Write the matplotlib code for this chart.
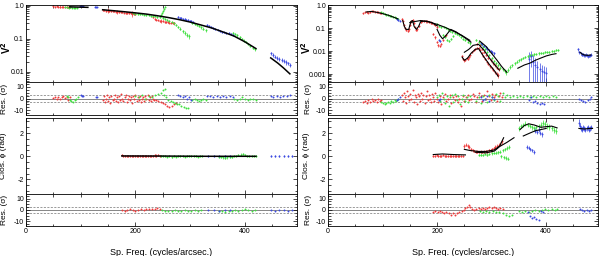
import numpy as np
import matplotlib
matplotlib.use('Agg')
import matplotlib.pyplot as plt
from matplotlib.ticker import MultipleLocator, LogLocator, FixedLocator, FixedFormatter, NullFormatter

plt.rcParams['font.family'] = ['Liberation Sans', 'DejaVu Sans']
plt.rcParams['axes.unicode_minus'] = False

RED = '#ee3b3b'
GREEN = '#3fe03f'
BLUE = '#3b49e0'

# ---------------- LEFT: V^2 (x, V2, err) ----------------
lv_red = [(50,.96,.03),(53,.95,.03),(56,.96,.04),(59,.94,.03),(62,.95,.08),(65,.93,.03),(68,.94,.03),(71,.92,.03),(74,.93,.04),(77,.91,.03),(80,.92,.03),
          (140,.74,.03),(143,.73,.03),(146,.71,.04),(149,.71,.12),(152,.70,.03),(155,.69,.03),(158,.68,.04),(161,.68,.03),(164,.66,.03),(167,.65,.10),(170,.65,.03),(173,.64,.03),(176,.63,.04),(179,.62,.03),(182,.61,.03),(185,.61,.03),(188,.60,.04),(191,.59,.03),(194,.58,.12),(197,.57,.03),(200,.56,.03),
          (232,.45,.03),(235,.41,.03),(238,.38,.02),(241,.36,.02),(244,.35,.02),(247,.34,.05),(250,.34,.02),(253,.33,.02),(256,.32,.02),(259,.32,.02),(262,.31,.02),(265,.31,.02),(268,.30,.02),(271,.30,.02)]
lv_green = [(72,.92,.03),(75,.90,.03),(78,.88,.03),(81,.89,.03),(84,.87,.03),(87,.88,.03),(90,.86,.03),(93,.87,.03),
            (196,.60,.03),(200,.58,.03),(204,.57,.03),(208,.56,.03),(212,.55,.03),(216,.54,.03),(220,.53,.03),(224,.52,.03),(228,.50,.03),(232,.49,.03),(236,.48,.03),(240,.47,.03),(244,.46,.03),
            (246,.52,.03),(248,.60,.04),(250,.70,.05),(252,.82,.05),(254,.95,.06),
            (250,.42,.03),(254,.40,.03),(258,.37,.03),(262,.35,.03),(266,.32,.03),(270,.29,.03),(274,.26,.02),(278,.23,.02),(282,.20,.02),(286,.17,.02),(290,.15,.02),(294,.13,.02),(298,.12,.02),
            (304,.30,.02),(308,.28,.02),(312,.26,.02),(316,.24,.02),(320,.22,.02),(324,.20,.02),(328,.18,.02),
            (378,.15,.01),(382,.14,.01),(386,.125,.01),(390,.11,.01),(394,.10,.008),(398,.088,.008),(402,.078,.006),(406,.068,.006),(410,.06,.005),(414,.053,.005),(418,.047,.004)]
lv_blue = [(98,.98,.02),(100,.97,.02),(102,.98,.02),(104,.96,.02),
           (126,.94,.02),(128,.92,.02),(130,.91,.02),
           (278,.46,.02),(281,.44,.02),(284,.43,.02),(287,.41,.02),(290,.40,.02),(293,.38,.02),(296,.37,.02),(299,.35,.02),(302,.34,.02),(305,.33,.02),
           (330,.27,.015),(334,.25,.015),(338,.23,.015),(342,.215,.015),(346,.20,.012),(350,.19,.012),(354,.175,.012),(358,.165,.012),(362,.155,.01),(366,.15,.012),(370,.145,.01),(374,.14,.012),(378,.13,.01),
           (447,.036,.004),(451,.032,.004),(455,.028,.003),(459,.026,.003),(463,.024,.003),(467,.022,.003),(471,.021,.003),(475,.019,.003),(479,.018,.002),(483,.016,.002)]
lv_model = [[(80,.93),(113,.90)],
            [(140,.76),(160,.71),(180,.66),(200,.61),(220,.56),(240,.50),(260,.44),(280,.38),(300,.32),(320,.26),(340,.21),(360,.16),(380,.12),(400,.08),(420,.05)],
            [(447,.026),(460,.018),(470,.013),(482,.0085)]]

# ---------------- LEFT: V^2 residuals (x, sigma) ----------------
lr_red = [(50,0.5),(53,1),(56,0),(59,1.5),(62,-0.5),(65,1),(68,2),(71,0.5),(74,1.5),(77,-1),(80,1),
          (140,-1),(142,2),(144,-3),(146,0),(148,3),(150,-2),(152,1),(154,-4),(156,2),(158,-1),(160,0),(162,3),(164,-2),(166,1),(168,-3),(170,2),(172,-1),(174,4),(176,0),(178,-2),(180,1),(182,3),(184,-3),(186,0),(188,2),(190,-1),(192,1),(194,-4),(196,2),(198,0),(200,3),(202,-2),(204,1),(206,-1),(208,2),(210,-3),(212,0),(214,1),(216,-2),(218,2),(220,0),(222,3),(224,-1),(226,1),(228,-2),(230,2),(232,0),(234,-1),
          (238,-1),(242,-2),(246,-3),(250,-4),(254,-5),(258,-6),(262,-7),(266,-6),(270,-5),(274,-4)]
lr_green = [(74,2),(77,1),(80,-1),(83,-2),(86,-3),(89,-1),(92,0),(95,1),
            (200,2),(206,1),(212,3),(218,0),(224,2),(230,1),(236,3),(242,4),(246,5),(250,7),(254,8),
            (252,3),(256,1),(260,-1),(264,-2),(268,-3),(272,-4),(276,-5),(280,-5),(284,-6),(288,-7),(292,-8),(296,-8),
            (304,-1),(308,0),(312,-1),(316,-2),(320,-1),(324,0),(328,-1),
            (380,0),(385,-1),(390,0),(395,1),(400,0),(405,-1),(410,0),(415,0),(420,-1)]
lr_blue = [(100,3),(102,2),(104,2.5),(128,1.5),(130,1),
           (278,3),(282,2),(286,1),(290,2),(294,0),(298,1),(302,-1),
           (330,2),(336,2),(342,1.5),(348,2),(354,1.5),(360,2),(366,1.5),(372,2),(378,1.5),
           (447,2),(452,1.5),(458,2),(464,1.5),(470,2),(476,2.5),(482,3)]

# ---------------- LEFT: closure phase (x, rad, err) ----------------
lc_red = [(175,0.08,.08),(178,0.05,.08),(181,0.06,.08),(184,0.03,.08),(187,0.05,.08),(190,0.04,.08),(193,0.06,.08),(196,0.03,.08),(199,0.05,.08),(202,0.02,.08),(205,0.04,.08),(208,0.03,.08),(211,0.05,.08),(214,0.02,.08),(217,0.04,.08),(220,0.03,.08),(223,0.05,.08),(226,0.06,.08),(229,0.04,.08),(232,0.05,.08),(235,0.08,.1),(238,0.06,.1),(241,0.09,.1),(244,0.05,.1)]
lc_green = [(246,0.02,.08),(250,0.0,.08),(254,0.03,.08),(258,-0.02,.08),(262,0.01,.08),(266,-0.03,.08),(270,0.0,.08),(274,-0.02,.08),(278,0.02,.08),(282,-0.01,.08),(286,0.01,.08),(290,-0.02,.08),(294,0.0,.08),(298,0.02,.08),(302,-0.01,.08),(306,0.0,.08),(310,0.01,.08),(314,-0.02,.08),(318,0.0,.08),(322,0.01,.08),
            (352,-0.05,.1),(356,-0.08,.1),(360,-0.1,.1),(364,-0.12,.1),(368,-0.1,.1),(372,-0.08,.1),(376,-0.05,.1),(380,0.0,.1),(384,0.05,.1),(388,0.1,.1),(392,0.15,.12),(396,0.2,.12),(400,0.1,.1),(404,0.05,.1),(408,0.02,.1),(412,0.0,.1),(416,0.02,.1),(420,0.0,.1)]
lc_blue = [(333,0.0,.1),(343,0.01,.1),(353,0.0,.1),(363,-0.01,.1),(373,0.0,.1),
           (447,0.0,.1),(455,0.01,.1),(463,0.0,.1),(471,0.0,.1),(479,0.01,.1),(485,0.0,.1)]
lc_model = [[(175,0.03),(250,0.02),(330,0.0),(420,0.0)]]

# ---------------- LEFT: closure phase residuals ----------------
lcr_red = [(175,0),(180,-0.5),(185,0),(190,0.5),(195,0),(200,-0.5),(205,0),(210,0.5),(215,0),(220,0.5),(225,1),(230,0.5),(235,1),(240,1.5),(245,0.5)]
lcr_green = [(248,0),(254,-0.5),(260,-1),(266,-0.5),(272,0),(278,-1),(284,-0.5),(290,0),(296,-1),(302,-0.5),(308,0),(314,-0.5),(320,0),
             (352,-0.5),(358,-1),(364,-1.5),(370,-1),(376,-0.5),(382,0),(388,-0.5),(394,0),(400,0.5),(406,0),(412,-0.5),(418,0)]
lcr_blue = [(333,0),(343,0),(353,-0.5),(363,0),(373,0),(447,0),(455,-0.5),(463,0),(471,0),(479,-0.5),(485,0)]

# ---------------- RIGHT: V^2 (x, V2, err) ----------------
rv_red = [(65,.45,.03),(68,.50,.03),(71,.52,.03),(74,.48,.03),(77,.50,.03),(80,.55,.03),(83,.56,.03),(86,.54,.03),(89,.52,.03),(92,.50,.03),(95,.48,.03),(98,.46,.03),
          (135,.25,.02),(137,.20,.02),(139,.14,.015),(141,.10,.01),(143,.085,.01),(146,.08,.01),(149,.09,.01),(151,.14,.015),(153,.20,.02),(155,.24,.02),(157,.17,.02),(159,.11,.01),(161,.085,.01),(164,.09,.01),(167,.13,.015),(170,.19,.02),(173,.22,.02),(176,.21,.02),(179,.20,.02),(182,.20,.02),(185,.19,.02),(188,.18,.02),(191,.17,.02),(194,.16,.02),(197,.14,.015),(200,.12,.015),
          (193,.055,.006),(196,.04,.005),(199,.025,.003),(202,.018,.002),(205,.017,.002),(208,.02,.002),(211,.03,.003),(214,.045,.005),(217,.05,.005),
          (246,.006,.0007),(248,.0045,.0005),(250,.004,.0005),(252,.0042,.0005),(254,.005,.0006),(256,.0045,.0005),(258,.0055,.0006),(261,.007,.0008),(264,.009,.001),(267,.011,.001),(270,.013,.0012),(273,.014,.0013),(276,.014,.0013),(279,.011,.001),(282,.008,.0008),(285,.006,.0006),(288,.0045,.0005),(291,.0035,.0004),(294,.0028,.0003),(297,.0022,.0003),(300,.0018,.0002),(303,.0015,.0002),(306,.0012,.0002),(309,.001,.0002),(312,.0009,.0002),
          (274,.02,.002),(278,.018,.002),(282,.013,.0015),(286,.009,.001),(290,.007,.0008),(294,.005,.0006),(298,.004,.0005),(302,.003,.0004),(306,.0024,.0003),(310,.0019,.0003),(314,.0016,.0003)]
rv_green = [(98,.50,.03),(101,.47,.03),(104,.44,.03),(107,.40,.03),(110,.38,.03),(113,.36,.03),(116,.34,.03),(119,.32,.02),(122,.30,.02),(125,.28,.02),(128,.26,.02),
            (200,.15,.015),(204,.13,.012),(208,.12,.012),(212,.11,.01),(216,.10,.01),(220,.09,.01),(224,.08,.008),(228,.07,.007),(232,.065,.007),(236,.055,.006),(240,.05,.005),(244,.04,.004),(248,.035,.004),(252,.03,.003),(256,.026,.003),(260,.022,.003),
            (210,.05,.005),(214,.04,.004),(218,.03,.003),(222,.028,.003),(226,.035,.004),(230,.045,.005),
            (272,.03,.003),(276,.025,.003),(280,.02,.002),(284,.016,.002),(288,.012,.0015),(292,.009,.001),(296,.007,.0008),(300,.005,.0006),(304,.0038,.0005),(308,.003,.0004),(312,.0024,.0003),(316,.0019,.0003),(320,.0016,.0003),(324,.0014,.0003),
            (326,.0012,.0003),(330,.0015,.0003),(334,.002,.0004),(338,.0025,.0004),(342,.003,.0005),(346,.0035,.0005),(350,.004,.0005),(354,.0045,.0006),(358,.005,.0006),(362,.0055,.0006),(366,.006,.0007),(370,.0065,.0007),(374,.007,.0008),(378,.0072,.0008),(382,.0075,.0008),(386,.008,.0009),(390,.0082,.0009),(394,.0085,.0009),(398,.009,.001),(402,.0092,.001),(406,.0095,.001),(410,.01,.001),(414,.0105,.001),(418,.011,.001),(422,.0115,.0012)]
rv_blue = [(126,.26,.02),(129,.24,.02),(132,.22,.02),(204,.03,.003),(206,.028,.003),
           (280,.022,.003),(283,.02,.003),(286,.017,.002),(289,.015,.002),(292,.013,.002),(295,.011,.0015),(298,.01,.0015),(301,.009,.0012),(304,.008,.001),
           (368,.0045,.0044),(372,.006,.004),(376,.0035,.0034),(380,.0025,.0024),(384,.002,.0019),(388,.0016,.0015),(392,.0013,.0012),(396,.0012,.0011),(400,.0011,.001),
           (459,.012,.002),(461,.009,.0015),(463,.008,.001),(465,.007,.001),(467,.0072,.001),(469,.0068,.001),(471,.0065,.0009),(473,.007,.001),(475,.0066,.0009),(477,.0062,.0009),(479,.0064,.0009),(481,.0068,.001),(483,.007,.001)]
rv_model = [[(70,.52),(80,.55),(90,.50),(100,.44),(110,.38),(120,.31),(128,.26)],
            [(137,.22),(140,.12),(143,.09),(148,.09),(152,.2),(155,.22),(158,.12),(162,.09),(166,.12),(170,.2),(180,.21),(190,.18),(200,.13)],
            [(150,.18),(160,.2),(170,.22),(185,.19),(200,.15),(215,.11),(230,.075),(245,.05),(260,.03)],
            [(200,.09),(205,.05),(210,.035),(215,.045),(225,.09),(235,.07),(250,.04),(262,.025)],
            [(246,.0055),(250,.004),(256,.005),(262,.008),(270,.012),(276,.013),(285,.006),(295,.0028),(305,.0014),(312,.0008)],
            [(250,.009),(258,.012),(266,.018),(276,.02),(286,.011),(296,.005),(306,.0025),(314,.0015)],
            [(278,.028),(290,.016),(300,.008),(310,.004),(318,.0022),(324,.0015),(328,.0012)],
            [(348,.0018),(360,.0025),(370,.003),(380,.004),(390,.005),(400,.0062),(410,.0072),(418,.0078)],
            [(462,.009),(466,.0075),(470,.0068),(476,.0066),(482,.0068)]]

# ---------------- RIGHT: V^2 residuals ----------------
rr_red = [(65,-3),(68,-2),(71,-4),(74,-1),(77,-3),(80,0),(83,-2),(86,-1),(89,-3),(92,0),(95,-2),(98,-1),
          (135,3),(137,-2),(139,5),(141,1),(143,-4),(145,6),(147,2),(149,-1),(151,4),(153,0),(155,7),(157,-3),(159,3),(161,1),(163,-5),(165,4),(167,2),(169,-2),(171,5),(173,0),(175,3),(177,-4),(179,2),(181,6),(183,-1),(185,3),(187,0),(189,-3),(191,4),(193,1),(195,-2),(197,5),(199,0),
          (202,-3),(205,2),(208,-5),(211,1),(214,4),(217,-2),(220,0),(223,3),(226,-4),(229,1),(232,-1),(235,2),(238,-3),(241,0),(244,-6),(247,2),
          (250,-2),(253,1),(256,3),(259,-1),(262,0),(265,4),(268,2),(271,-3),(274,1),(277,5),(280,2),(283,-2),(286,3),(289,0),(292,6),(295,2),(298,-1),(301,4),(304,1),(307,3),(310,-2),(313,2),(316,5),(319,1)]
rr_green = [(98,-3),(101,-4),(104,-5),(107,-4),(110,-3),(113,-4),(116,-2),(119,-3),(122,-1),(125,-2),(128,0),
            (200,1),(203,3),(206,-2),(209,5),(212,0),(215,-4),(218,2),(221,-6),(224,1),(227,3),(230,-3),(233,4),(236,-1),(239,2),(242,-5),(245,0),(248,3),(251,-2),(254,1),(257,-3),(260,2),
            (272,-2),(276,1),(280,-4),(284,2),(288,0),(292,-3),(296,3),(300,1),(304,-1),(308,4),(312,2),(316,-2),(320,5),(324,1),(328,3),
            (334,1),(340,2),(346,1),(352,2),(358,1),(364,2),(370,1.5),(376,2),(382,1),(388,2),(394,1.5),(400,2),(406,1),(412,2),(418,1.5)]
rr_blue = [(126,-1),(129,0),(132,1),(204,-1),(206,0),(280,1),(284,-1),(288,0),(292,2),(296,-2),(300,1),(304,0),
           (368,-1),(372,1),(376,-3),(380,-2),(384,-4),(388,-5),(392,-4),(396,-5),
           (460,0),(464,-1),(468,-2),(472,-3),(476,-1),(480,0),(483,1)]

# ---------------- RIGHT: closure phase ----------------
rc_red = [(193,0.0,.1),(196,0.05,.1),(199,0.1,.1),(202,0.05,.1),(205,0.0,.1),(208,0.05,.1),(211,0.1,.1),(214,0.05,.1),(217,0.0,.1),(220,0.05,.1),(223,0.0,.1),(226,0.05,.1),(229,0.0,.1),(232,0.05,.1),(235,0.0,.1),(238,0.05,.1),(241,0.0,.1),(244,0.05,.1),(247,0.05,.1),
          (250,0.9,.15),(253,1.0,.15),(256,0.9,.15),(259,0.8,.15),(262,0.6,.12),(265,0.5,.12),(268,0.45,.1),(271,0.4,.1),(274,0.4,.1),(277,0.35,.1),(280,0.4,.1),(283,0.35,.1),(286,0.4,.1),(289,0.45,.1),(292,0.4,.1),(295,0.5,.1),(298,0.5,.1),(301,0.6,.12),(304,0.7,.12),(307,0.8,.15),(310,0.9,.15),(313,1.0,.15),(316,1.1,.15),(319,1.3,.2)]
rc_green = [(276,0.1,.1),(280,0.15,.1),(284,0.1,.1),(288,0.2,.1),(292,0.15,.1),(296,0.2,.1),(300,0.25,.1),(304,0.3,.1),(308,0.3,.12),(312,0.35,.12),(316,0.4,.12),(320,0.5,.15),(324,0.6,.15),(328,0.7,.15),(332,0.8,.15),
            (318,0.0,.12),(322,-0.1,.12),(326,-0.15,.15),(330,-0.2,.15),
            (350,2.4,.2),(354,2.6,.2),(358,2.7,.2),(362,2.8,.2),(366,2.7,.2),(370,2.6,.2),(374,2.5,.2),(378,2.4,.2),(382,2.5,.2),(386,2.6,.2),(390,2.7,.25),(394,2.9,.25),(398,2.8,.25),(402,2.6,.25),(406,2.5,.25),(410,2.4,.25),(414,2.3,.25),(418,2.2,.25)]
rc_blue = [(365,0.8,.15),(368,0.75,.15),(371,0.6,.15),(374,0.5,.15),(377,0.35,.15),
           (380,2.2,.2),(383,2.1,.2),(386,2.3,.2),(389,2.0,.2),(392,1.9,.2),
           (460,2.9,.3),(462,2.6,.25),(464,2.4,.2),(466,2.3,.2),(468,2.5,.2),(470,2.4,.2),(472,2.3,.2),(474,2.4,.2),(476,2.5,.2),(478,2.3,.2),(480,2.4,.2),(482,2.5,.2)]
rc_model = [[(193,0.15),(210,0.2),(230,0.15),(252,0.12)],
            [(250,0.6),(260,0.5),(275,0.42),(290,0.42),(305,0.55),(315,0.9),(322,1.6)],
            [(270,0.35),(290,0.3),(305,0.45),(315,0.85),(328,1.2),(341,1.6)],
            [(352,2.3),(360,2.65),(368,2.8),(378,2.7),(390,2.5),(400,2.55),(410,2.6),(420,2.45)],
            [(358,1.75),(370,2.0),(380,2.2),(390,2.3),(400,2.4)],
            [(460,2.4),(470,2.35),(480,2.4),(485,2.4)]]

# ---------------- RIGHT: closure phase residuals ----------------
rcr_red = [(193,-2),(197,-1),(201,-2),(205,-1),(209,-2),(213,-3),(217,-2),(221,-3),(225,-4),(229,-3),(233,-4),(237,-3),(241,-2),(245,-1),(249,0),(252,2),(255,3),(258,4),(261,3),(264,1),(268,0),(272,1),(276,2),(280,1),(284,2),(288,1),(292,2),(296,3),(300,2),(304,3),(308,2),(312,1),(316,2),(320,1)]
rcr_green = [(278,-1),(284,-2),(290,-1),(296,-2),(302,-1),(308,-2),(314,-2),(320,-3),(326,-4),(332,-5),(338,-4),
             (350,-1),(356,-2),(362,-1),(368,-2),(374,-1),(380,0),(386,-1),(392,0),(398,1),(404,0),(410,1),(416,0),(420,1)]
rcr_blue = [(366,-2),(370,-5),(374,-7),(378,-6),(382,-8),(386,-9),(390,-1),(394,-2),(462,1),(466,0),(470,-1),(474,0),(478,-1),(482,0)]

V2_TICKS_L = [1.0, 0.1, 0.01]
V2_LABELS_L = ['1.0', '0.1', '0.01']
V2_TICKS_R = [1.0, 0.1, 0.01, 0.001]
V2_LABELS_R = ['1.0', '0.1', '0.01', '0.001']

# ---------------- figure ----------------
W, H = 600, 256
fig = plt.figure(figsize=(6.0, 2.56), dpi=100)

def ax_at(x0, x1, y0, y1):
    return fig.add_axes([x0 / W, 1 - y1 / H, (x1 - x0) / W, (y1 - y0) / H])

def pts(ax, data, color):
    a = np.array(data, dtype=float)
    if a.shape[1] == 3:
        ax.errorbar(a[:, 0], a[:, 1], yerr=a[:, 2], fmt='o', ms=1.4, mew=0,
                    color=color, ecolor=color, elinewidth=0.5, capsize=0, zorder=2)
    else:
        ax.plot(a[:, 0], a[:, 1], 'o', ms=1.4, mew=0, color=color, zorder=2)

def model(ax, segs, lw=0.9):
    for s in segs:
        a = np.array(s, dtype=float)
        ax.plot(a[:, 0], a[:, 1], '-', color='black', lw=lw, zorder=3)

def style(ax, xlabels=False):
    ax.set_xlim(0, 495)
    ax.xaxis.set_major_locator(MultipleLocator(200))
    ax.xaxis.set_minor_locator(MultipleLocator(50))
    ax.tick_params(which='both', direction='in', top=True, right=True, labelsize=5,
                   width=0.5, pad=1.5)
    ax.tick_params(which='major', length=3)
    ax.tick_params(which='minor', length=1.8)
    if not xlabels:
        ax.tick_params(axis='x', labelbottom=False)
    for sp in ax.spines.values():
        sp.set_linewidth(0.6)

def resid_lines(ax):
    ax.axhline(0, color='0.45', lw=0.6, zorder=1)
    ax.axhline(3, color='0.45', lw=0.5, ls=(0, (3, 2)), zorder=1)
    ax.axhline(-3, color='0.45', lw=0.5, ls=(0, (3, 2)), zorder=1)
    ax.set_ylim(-14, 14)
    ax.yaxis.set_major_locator(MultipleLocator(10))
    ax.yaxis.set_minor_locator(MultipleLocator(2.5))

cols = [(26, 297), (328, 598)]
rows = [(5, 82), (82, 115), (118, 194), (194, 226)]

sets = [
    dict(v2=(lv_red, lv_green, lv_blue), v2m=lv_model, r1=(lr_red, lr_green, lr_blue),
         cp=(lc_red, lc_green, lc_blue), cpm=lc_model, r2=(lcr_red, lcr_green, lcr_blue),
         ylim=(0.0048, 1.06), ticks=V2_TICKS_L, labels=V2_LABELS_L,
         lx=(-0.047, -0.066, -0.07, -0.066), mlw=1.1),
    dict(v2=(rv_red, rv_green, rv_blue), v2m=rv_model, r1=(rr_red, rr_green, rr_blue),
         cp=(rc_red, rc_green, rc_blue), cpm=rc_model, r2=(rcr_red, rcr_green, rcr_blue),
         ylim=(0.00045, 1.05), ticks=V2_TICKS_R, labels=V2_LABELS_R,
         lx=(-0.056, -0.06, -0.067, -0.06), mlw=0.8),
]
colors = (RED, GREEN, BLUE)

for (x0, x1), S in zip(cols, sets):
    a1 = ax_at(x0, x1, *rows[0])
    a2 = ax_at(x0, x1, *rows[1])
    a3 = ax_at(x0, x1, *rows[2])
    a4 = ax_at(x0, x1, *rows[3])

    # V2
    a1.set_yscale('log')
    for d, c in zip(S['v2'], colors):
        pts(a1, d, c)
    model(a1, S['v2m'], S['mlw'])
    a1.set_ylim(*S['ylim'])
    style(a1)
    a1.yaxis.set_major_locator(FixedLocator(S['ticks']))
    a1.yaxis.set_major_formatter(FixedFormatter(S['labels']))
    a1.yaxis.set_minor_locator(LogLocator(base=10, subs=np.arange(2, 10)))
    a1.yaxis.set_minor_formatter(NullFormatter())
    a1.set_ylabel('V$^\\mathbf{2}$', fontsize=7, fontweight='bold')
    a1.yaxis.set_label_coords(S['lx'][0], 0.45)

    # residual V2
    for d, c in zip(S['r1'], colors):
        pts(a2, d, c)
    resid_lines(a2)
    style(a2)
    a2.set_ylabel('Res. (σ)', fontsize=6)
    a2.yaxis.set_label_coords(S['lx'][1], 0.5)

    # closure phase
    for d, c in zip(S['cp'], colors):
        pts(a3, d, c)
    model(a3, S['cpm'], S['mlw'])
    a3.set_ylim(-3.25, 3.3)
    a3.yaxis.set_major_locator(MultipleLocator(2))
    a3.yaxis.set_minor_locator(MultipleLocator(0.5))
    style(a3)
    a3.set_ylabel('Clos. ϕ (rad)', fontsize=6)
    a3.yaxis.set_label_coords(S['lx'][2], 0.5)

    # residual CP
    for d, c in zip(S['r2'], colors):
        pts(a4, d, c)
    resid_lines(a4)
    style(a4, xlabels=True)
    a4.set_ylabel('Res. (σ)', fontsize=6)
    a4.yaxis.set_label_coords(S['lx'][3], 0.5)
    a4.set_xlabel('Sp. Freq. (cycles/arcsec.)', fontsize=6.5, labelpad=9)

fig.savefig('out.png', dpi=100)
